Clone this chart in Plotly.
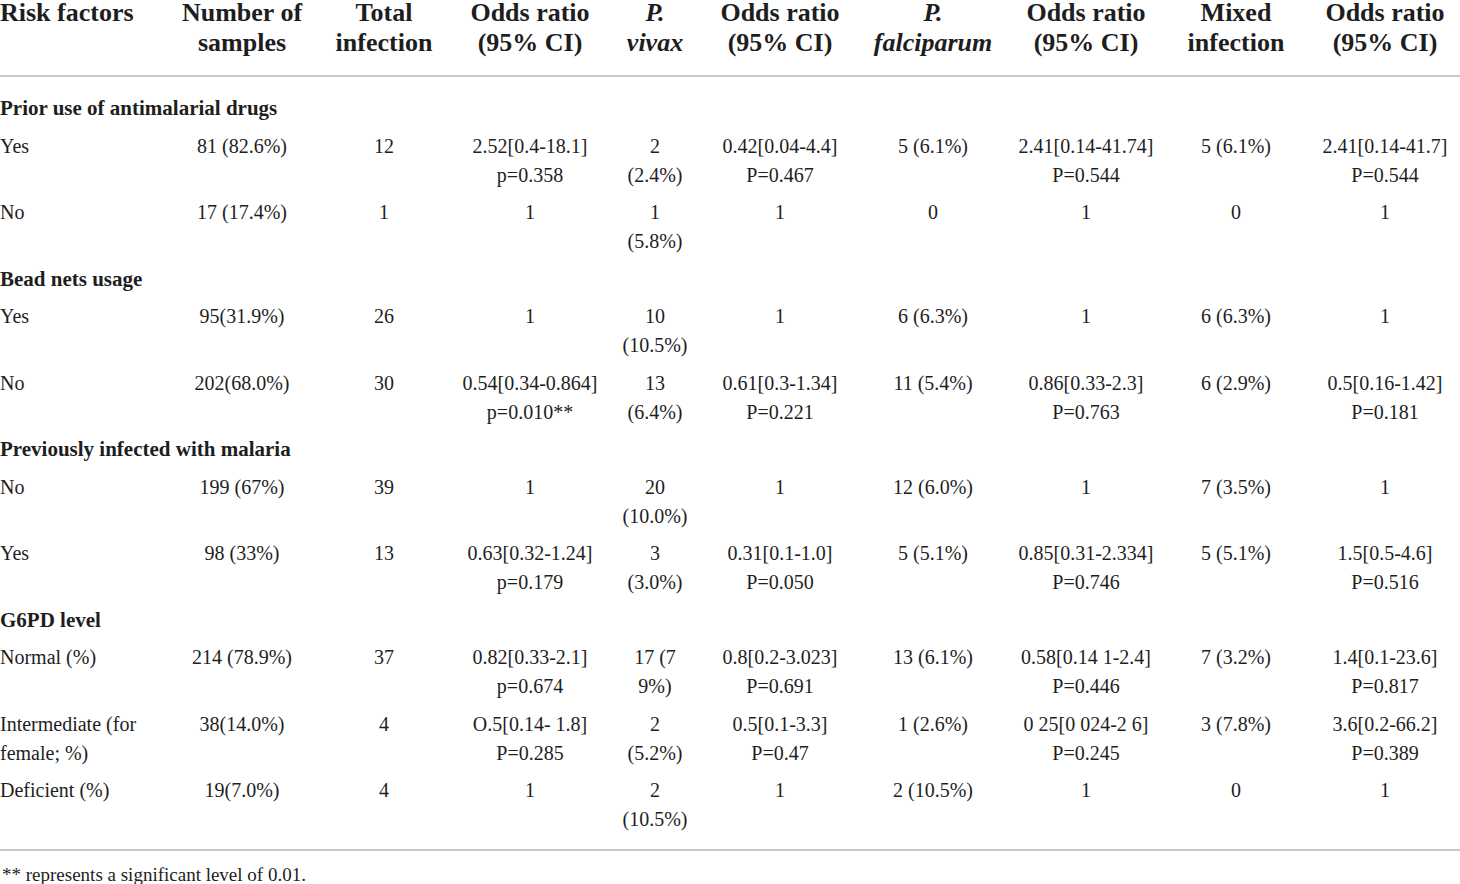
import plotly.graph_objects as go

# ---- table content ----
headers = [
    "Risk factors",
    "Number of\nsamples",
    "Total\ninfection",
    "Odds ratio\n(95% CI)",
    "<i>P.</i>\n<i>vivax</i>",
    "Odds ratio\n(95% CI)",
    "<i>P.</i>\n<i>falciparum</i>",
    "Odds ratio\n(95% CI)",
    "Mixed\ninfection",
    "Odds ratio\n(95% CI)",
]

groups = [
    "Prior use of antimalarial drugs",
    "Bead nets usage",
    "Previously infected with malaria",
    "G6PD level",
]
group_of_row = [0, 0, 1, 1, 2, 2, 3, 3, 3]

risk_labels = ["Yes", "No", "Yes", "No", "No", "Yes",
               "Normal (%)", "Intermediate (for\nfemale; %)", "Deficient (%)"]
n_samples = ["81 (82.6%)", "17 (17.4%)", "95(31.9%)", "202(68.0%)", "199 (67%)",
             "98 (33%)", "214 (78.9%)", "38(14.0%)", "19(7.0%)"]
total_infection = ["12", "1", "26", "30", "39", "13", "37", "4", "4"]
or_total = ["2.52[0.4-18.1]\np=0.358", "1", "1", "0.54[0.34-0.864]\np=0.010**", "1",
            "0.63[0.32-1.24]\np=0.179", "0.82[0.33-2.1]\np=0.674",
            "O.5[0.14- 1.8]\nP=0.285", "1"]
vivax = ["2\n(2.4%)", "1\n(5.8%)", "10\n(10.5%)", "13\n(6.4%)", "20\n(10.0%)",
         "3\n(3.0%)", "17 (7\n9%)", "2\n(5.2%)", "2\n(10.5%)"]
or_vivax = ["0.42[0.04-4.4]\nP=0.467", "1", "1", "0.61[0.3-1.34]\nP=0.221", "1",
            "0.31[0.1-1.0]\nP=0.050", "0.8[0.2-3.023]\nP=0.691",
            "0.5[0.1-3.3]\nP=0.47", "1"]
falciparum = ["5 (6.1%)", "0", "6 (6.3%)", "11 (5.4%)", "12 (6.0%)", "5 (5.1%)",
              "13 (6.1%)", "1 (2.6%)", "2 (10.5%)"]
or_falciparum = ["2.41[0.14-41.74]\nP=0.544", "1", "1", "0.86[0.33-2.3]\nP=0.763", "1",
                 "0.85[0.31-2.334]\nP=0.746", "0.58[0.14 1-2.4]\nP=0.446",
                 "0 25[0 024-2 6]\nP=0.245", "1"]
mixed = ["5 (6.1%)", "0", "6 (6.3%)", "6 (2.9%)", "7 (3.5%)", "5 (5.1%)",
         "7 (3.2%)", "3 (7.8%)", "0"]
or_mixed = ["2.41[0.14-41.7]\nP=0.544", "1", "1", "0.5[0.16-1.42]\nP=0.181", "1",
            "1.5[0.5-4.6]\nP=0.516", "1.4[0.1-23.6]\nP=0.817",
            "3.6[0.2-66.2]\nP=0.389", "1"]

footnote = "** represents a significant level of 0.01."

columns = [risk_labels, n_samples, total_infection, or_total, vivax, or_vivax,
           falciparum, or_falciparum, mixed, or_mixed]

# ---- layout helpers (pixels) ----
W, H = 1460, 884
col_x = [0, 242, 384, 530, 655, 780, 933, 1086, 1236, 1385]
LINE = 29
PAD = 8.5
TEXT = "#1e1e1e"
FONT = "Liberation Serif"

group_y = []
row_y = [0] * len(risk_labels)
y = 110
for g in range(len(groups)):
    group_y.append(y)
    y += LINE + PAD
    for r, gr in enumerate(group_of_row):
        if gr == g:
            row_y[r] = y
            nlines = max(col[r].count("\n") + 1 for col in columns)
            y += nlines * LINE + PAD

fig = go.Figure()

# header
hx, hy, ht, hpos = [], [], [], []
for c, h in enumerate(headers):
    for i, line in enumerate(h.split("\n")):
        hx.append(col_x[c])
        hy.append(14 + i * 30)
        ht.append(f"<b>{line}</b>")
        hpos.append("middle right" if c == 0 else "middle center")
fig.add_trace(go.Scatter(
    x=hx, y=hy, text=ht, mode="text", textposition=hpos, cliponaxis=False,
    textfont=dict(family=FONT, size=26, color=TEXT),
    hoverinfo="skip", showlegend=False,
))

# group labels
fig.add_trace(go.Scatter(
    x=[col_x[0]] * len(groups), y=group_y,
    text=[f"<b>{g}</b>" for g in groups],
    mode="text", textposition="middle right", cliponaxis=False,
    textfont=dict(family=FONT, size=21, color=TEXT),
    hoverinfo="skip", showlegend=False,
))

# body cells
for c, col in enumerate(columns):
    xs, ys, ts = [], [], []
    for r, cell in enumerate(col):
        for i, line in enumerate(cell.split("\n")):
            xs.append(col_x[c])
            ys.append(row_y[r] + i * LINE)
            ts.append(line)
    fig.add_trace(go.Scatter(
        x=xs, y=ys, text=ts, mode="text", cliponaxis=False,
        textposition="middle right" if c == 0 else "middle center",
        textfont=dict(family=FONT, size=20, color=TEXT),
        hoverinfo="skip", showlegend=False,
    ))

fig.add_annotation(
    x=0, y=874, xref="x", yref="y", text=footnote, showarrow=False,
    xanchor="left", yanchor="middle",
    font=dict(family=FONT, size=19, color=TEXT),
)

for ly in [76, 850]:
    fig.add_shape(type="line", xref="paper", yref="y", x0=0, x1=1, y0=ly, y1=ly,
                  line=dict(color="#c8c8c8", width=2))

fig.update_layout(
    width=W, height=H,
    margin=dict(l=0, r=0, t=0, b=0),
    plot_bgcolor="white", paper_bgcolor="white",
    xaxis=dict(range=[0, W], visible=False, fixedrange=True),
    yaxis=dict(range=[H, 0], visible=False, fixedrange=True),
)

fig.write_html(
    "out.html",
    config={"displayModeBar": False},
    post_script="document.body.style.margin='0';document.body.style.overflow='hidden';",
)
